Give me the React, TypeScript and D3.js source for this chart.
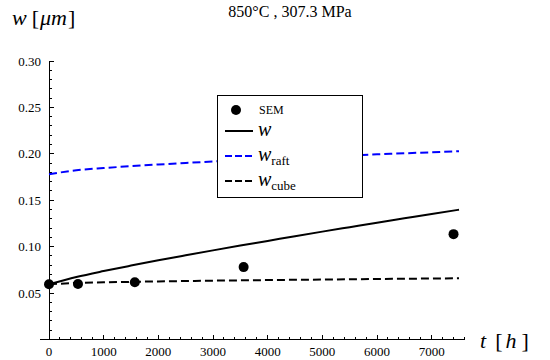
import React from "react";
import * as d3 from "d3";

// Time grid (h) for the model curves
const times = [0, 500, 1000, 1500, 2000, 2500, 3000, 3500, 4000, 4500, 5000, 5500, 6000, 6500, 7000, 7500];
// Channel width of the rafted phase (µm)
const wRaft = [0.178, 0.1823, 0.1847, 0.1867, 0.1885, 0.1902, 0.1917, 0.1931, 0.1945, 0.1958, 0.1971, 0.1983, 0.1995, 0.2006, 0.2017, 0.2028];
// Overall channel width (µm)
const wTotal = [0.0595, 0.0673, 0.0737, 0.0796, 0.0853, 0.0907, 0.096, 0.1012, 0.1062, 0.1113, 0.1162, 0.121, 0.1258, 0.1305, 0.1352, 0.1398];
// Channel width of the cuboidal phase (µm)
const wCube = [0.0595, 0.0609, 0.0616, 0.0621, 0.0626, 0.063, 0.0634, 0.0637, 0.064, 0.0643, 0.0646, 0.0649, 0.0652, 0.0654, 0.0657, 0.0659];

// SEM measurements
const semTimes = [0, 530, 1570, 3560, 7400];
const semWidths = [0.0595, 0.0598, 0.0617, 0.078, 0.1135];

const xTickValues = [0, 1000, 2000, 3000, 4000, 5000, 6000, 7000];
const xTickLabels = ["0", "1000", "2000", "3000", "4000", "5000", "6000", "7000"];
const yTickValues = [0.05, 0.1, 0.15, 0.2, 0.25, 0.3];
const yTickLabels = ["0.05", "0.10", "0.15", "0.20", "0.25", "0.30"];

const FONT = "Liberation Serif, DejaVu Serif, serif";

export default function App() {
  const x = d3.scaleLinear().domain([0, 7500]).range([49, 459]);
  const y = d3.scaleLinear().domain([0, 0.3]).range([339.5, 61]);
  const axisY = y(0);
  const xEnd = x(7600);

  const line = (vals: number[]) =>
    d3
      .line<number>()
      .x((_, i) => x(times[i]))
      .y((v) => y(v))
      .curve(d3.curveMonotoneX)(vals) as string;

  const xMinor = d3.range(0, 7601, 200).filter((t) => t % 1000 !== 0);
  const yMinor = d3.range(1, 30).map((k) => k / 100).filter((_, i) => (i + 1) % 5 !== 0);

  const legendX = 217;
  const legendY = 95;
  const rowY = [110, 131, 156, 181];
  const lx1 = 225;
  const lx2 = 253;
  const tx = 258;

  return (
    <svg width={550} height={360} style={{ display: "block", position: "absolute", left: 0, top: 0 }}>
      <rect width={550} height={360} fill="#fff" />
      {/* title */}
      <text x={290} y={17} fontSize={16} textAnchor="middle" fill="#000" fontFamily={FONT}>
        850°C , 307.3 MPa
      </text>
      {/* y axis label */}
      <text x={12} y={25} fontSize={22} fill="#000" fontFamily={FONT}>
        <tspan fontStyle="italic">w</tspan>
        <tspan dx={5}>[</tspan>
        <tspan fontStyle="italic" dx={1}>μm</tspan>
        <tspan dx={1}>]</tspan>
      </text>
      {/* x axis label */}
      <text x={480} y={348} fontSize={22} fill="#000" fontFamily={FONT}>
        <tspan fontStyle="italic">t</tspan>
        <tspan dx={9}>[</tspan>
        <tspan fontStyle="italic" dx={3}>h</tspan>
        <tspan dx={5}>]</tspan>
      </text>

      {/* axes */}
      <g stroke="#000" strokeWidth={1} shapeRendering="crispEdges">
        <line x1={40} x2={xEnd} y1={axisY} y2={axisY} />
        <line x1={x(0)} x2={x(0)} y1={y(0.3)} y2={axisY} />
        {xTickValues.map((t) => (
          <line key={"xM" + t} x1={x(t)} x2={x(t)} y1={axisY} y2={axisY - 5} />
        ))}
        {xMinor.map((t) => (
          <line key={"xm" + t} x1={x(t)} x2={x(t)} y1={axisY} y2={axisY - 3} />
        ))}
        {yTickValues.map((v) => (
          <line key={"yM" + v} x1={x(0)} x2={x(0) + 5} y1={y(v)} y2={y(v)} />
        ))}
        {yMinor.map((v) => (
          <line key={"ym" + v} x1={x(0)} x2={x(0) + 3} y1={y(v)} y2={y(v)} />
        ))}
      </g>
      <g fontSize={13} fill="#000" fontFamily={FONT}>
        {xTickValues.map((t, i) => (
          <text key={"xl" + t} x={x(t)} y={axisY + 16} textAnchor="middle" fontFamily={FONT}>
            {xTickLabels[i]}
          </text>
        ))}
        {yTickValues.map((v, i) => (
          <text key={"yl" + v} x={x(0) - 8} y={y(v) + 4.5} textAnchor="end" fontFamily={FONT}>
            {yTickLabels[i]}
          </text>
        ))}
      </g>

      {/* model curves */}
      <path d={line(wRaft)} fill="none" stroke="#0000ff" strokeWidth={2} strokeDasharray="8,4" />
      <path d={line(wCube)} fill="none" stroke="#000" strokeWidth={2} strokeDasharray="8,4" />
      <path d={line(wTotal)} fill="none" stroke="#000" strokeWidth={2} />

      {/* SEM points */}
      {semTimes.map((t, i) => (
        <circle key={"sem" + t} cx={x(t)} cy={y(semWidths[i])} r={5} fill="#000" />
      ))}

      {/* legend */}
      <rect x={legendX} y={legendY} width={145} height={102} fill="#fff" stroke="#000" strokeWidth={1} shapeRendering="crispEdges" />
      <circle cx={236} cy={rowY[0]} r={5} fill="#000" />
      <text x={tx + 1} y={rowY[0] + 4} fontSize={12} fill="#000" fontFamily={FONT}>SEM</text>
      <line x1={lx1} x2={lx2} y1={rowY[1]} y2={rowY[1]} stroke="#000" strokeWidth={2} />
      <text x={tx} y={rowY[1] + 5} fontSize={20} fontStyle="italic" fill="#000" fontFamily={FONT}>w</text>
      <line x1={lx1} x2={lx2} y1={rowY[2]} y2={rowY[2]} stroke="#0000ff" strokeWidth={2} strokeDasharray="7,3" />
      <text x={tx} y={rowY[2] + 5} fontSize={20} fill="#000" fontFamily={FONT}>
        <tspan fontStyle="italic">w</tspan>
        <tspan fontSize={13} dy={4}>raft</tspan>
      </text>
      <line x1={lx1} x2={lx2} y1={rowY[3]} y2={rowY[3]} stroke="#000" strokeWidth={2} strokeDasharray="7,3" />
      <text x={tx} y={rowY[3] + 5} fontSize={20} fill="#000" fontFamily={FONT}>
        <tspan fontStyle="italic">w</tspan>
        <tspan fontSize={13} dy={4}>cube</tspan>
      </text>
    </svg>
  );
}
